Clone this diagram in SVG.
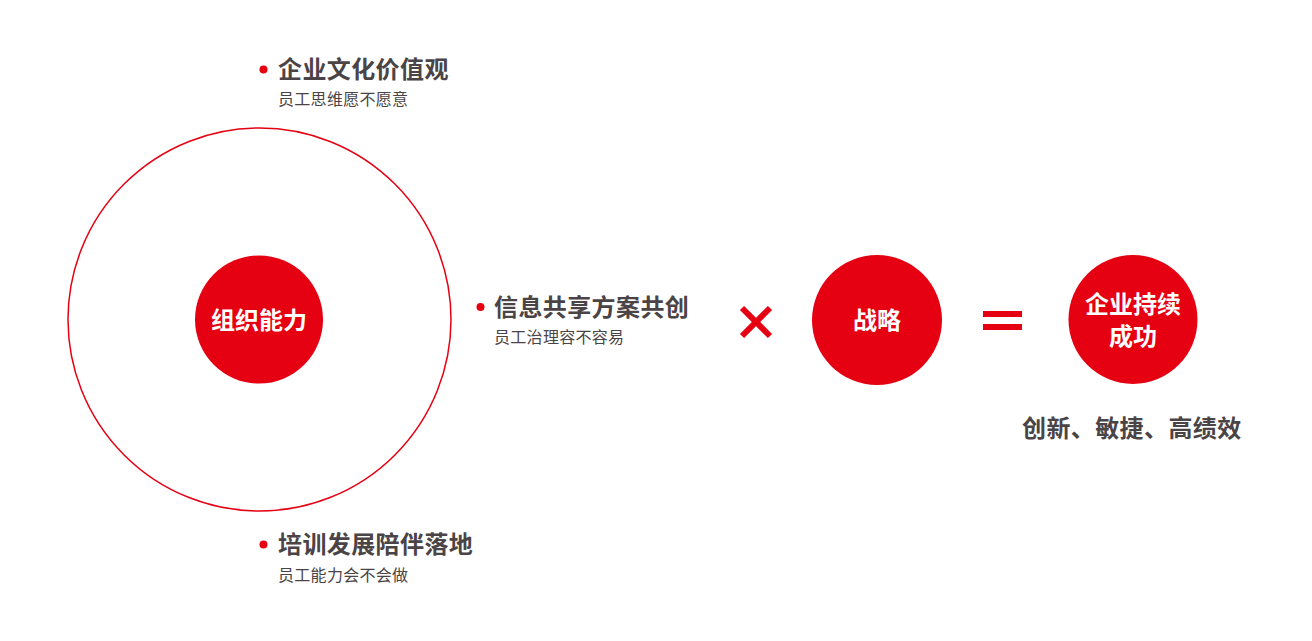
<svg xmlns="http://www.w3.org/2000/svg" width="1312" height="641" viewBox="0 0 1312 641">
<style>
.red{fill:#e50012}
.h{font-family:"Noto Sans CJK SC","Noto Sans",sans-serif;font-weight:700;font-size:24px;letter-spacing:0.4px;fill:#4b4446}
.s{font-family:"Noto Sans CJK SC","Noto Sans",sans-serif;font-weight:400;font-size:16px;letter-spacing:0.3px;fill:#4b4446}
.w{font-family:"Noto Sans CJK SC","Noto Sans",sans-serif;font-weight:700;font-size:24px;fill:#ffffff;text-anchor:middle}
</style>
<rect width="1312" height="641" fill="#ffffff"/>
<g id="outer-ring">
<circle cx="259.5" cy="319.5" r="191.5" fill="none" stroke="#e50012" stroke-width="1.5"/>
</g>
<g id="node-org">
<circle class="red" cx="259" cy="319.5" r="64"/>
<text class="w" x="259" y="329">组织能力</text>
</g>
<g id="item-culture">
<circle class="red" cx="263.5" cy="69.5" r="4"/>
<text class="h" x="278" y="78">企业文化价值观</text>
<text class="s" x="278" y="105">员工思维愿不愿意</text>
</g>
<g id="item-info">
<circle class="red" cx="480.5" cy="307" r="4"/>
<text class="h" x="494" y="316">信息共享方案共创</text>
<text class="s" x="494" y="343">员工治理容不容易</text>
</g>
<g id="item-training">
<circle class="red" cx="263.5" cy="544.5" r="4"/>
<text class="h" x="278" y="553">培训发展陪伴落地</text>
<text class="s" x="278" y="581">员工能力会不会做</text>
</g>
<g id="connectors">
<g id="times" stroke="#e50012" stroke-width="6" stroke-linecap="butt">
<line x1="742" y1="308" x2="770" y2="336"/>
<line x1="770" y1="308" x2="742" y2="336"/>
</g>
<g id="equals">
<rect class="red" x="983" y="311" width="39" height="6"/>
<rect class="red" x="983" y="324" width="39" height="6"/>
</g>
</g>
<g id="node-strategy">
<circle class="red" cx="877" cy="320" r="65"/>
<text class="w" x="877" y="329">战略</text>
</g>
<g id="node-success">
<circle class="red" cx="1133" cy="319.5" r="64.5"/>
<text class="w" x="1133" y="313">企业持续</text>
<text class="w" x="1133" y="345">成功</text>
</g>
<g id="result">
<text class="h" x="1022" y="437">创新、敏捷、高绩效</text>
</g>
</svg>
